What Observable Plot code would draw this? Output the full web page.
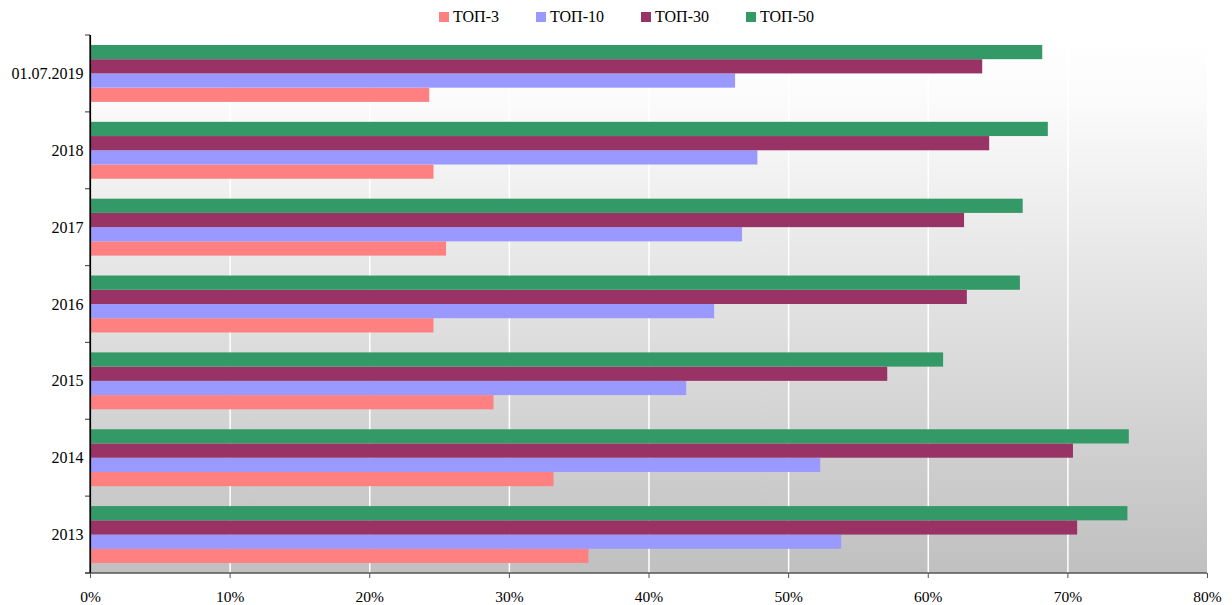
<!DOCTYPE html>
<html>
<head>
<meta charset="utf-8">
<script src="https://cdn.jsdelivr.net/npm/d3@7"></script>
<script src="https://cdn.jsdelivr.net/npm/@observablehq/plot@0.6"></script>
<style>
  html, body { margin: 0; padding: 0; background: #fff; }
  #wrap { position: relative; width: 1232px; height: 605px; font-family: "Liberation Serif", "Times New Roman", serif; }
  #legend { position: absolute; left: 439px; top: 7px; display: flex; font-size: 16px; color: #000; }
  .item { display: flex; align-items: center; height: 20px; line-height: 20px; margin-right: 37px; }
  .sw { width: 10px; height: 10px; margin-right: 4px; }
  #chart { position: absolute; left: 0; top: 0; }
  #chart [aria-label="x-axis tick label"] { font-size: 15.5px; }
  #chart [aria-label="fy-axis tick label"] { font-size: 16px; }
</style>
</head>
<body>
<div id="wrap">
  <div id="chart"></div>
  <div id="legend"></div>
</div>
<script>
// Categories (top to bottom)
const categories = ["01.07.2019", "2018", "2017", "2016", "2015", "2014", "2013"];
// Series names
const series = ["ТОП-3", "ТОП-10", "ТОП-30", "ТОП-50"];
// Values in percent, per category (same order as categories)
const top3  = [24.3, 24.6, 25.5, 24.6, 28.9, 33.2, 35.7];
const top10 = [46.2, 47.8, 46.7, 44.7, 42.7, 52.3, 53.8];
const top30 = [63.9, 64.4, 62.6, 62.8, 57.1, 70.4, 70.7];
const top50 = [68.2, 68.6, 66.8, 66.6, 61.1, 74.4, 74.3];
const colors = ["#FF8080", "#9999FF", "#993366", "#339966"];
const xTicks = [0, 10, 20, 30, 40, 50, 60, 70, 80];
const gridTicks = [10, 20, 30, 40, 50, 60, 70];

const seriesValues = [top3, top10, top30, top50];
const data = [];
categories.forEach((c, i) => {
  series.forEach((s, j) => data.push({cat: c, series: s, value: seriesValues[j][i]}));
});

const pct = d => d + "%";

const plot = Plot.plot({
  width: 1232,
  height: 605,
  marginLeft: 90,
  marginRight: 25,
  marginTop: 35,
  marginBottom: 32,
  style: {fontFamily: "'Liberation Serif', 'Times New Roman', serif", fontSize: "16px", color: "#000", background: "transparent", overflow: "visible"},
  x: {domain: [0, 80], ticks: xTicks, tickFormat: pct, label: null},
  fy: {domain: categories, padding: 0, round: false, label: null},
  y: {domain: [...series].reverse(), paddingInner: 0, paddingOuter: 0.7, round: false, axis: null},
  color: {domain: series, range: colors},
  marks: [
    Plot.ruleX(gridTicks, {stroke: "#ffffff", strokeWidth: 1.5, strokeOpacity: 1}),
    Plot.barX(data, {x: "value", y: "series", fy: "cat", fill: "series", inset: 0}),
    Plot.ruleX([0], {stroke: "#000", strokeWidth: 1.2}),
    Plot.axisFy({anchor: "left", tickSize: 0, tickPadding: 7, fontSize: 16, label: null}),
    Plot.axisX(xTicks, {anchor: "bottom", tickSize: 5, tickPadding: 12, fontSize: 15.5, tickFormat: pct, stroke: "#555", label: null})
  ]
});

document.getElementById("chart").appendChild(plot);

// Background gradient and axis decorations derived from the plot's scales
const xs = plot.scale("x");
const fys = plot.scale("fy");
const x0 = xs.apply(0), x1 = xs.apply(80);
const yTop = fys.apply(categories[0]);
const yBot = fys.apply(categories[categories.length - 1]) + fys.bandwidth;
const svg = d3.select(plot);
const defs = svg.insert("defs", ":first-child");
const grad = defs.append("linearGradient").attr("id", "bggrad").attr("x1", 0).attr("y1", 0).attr("x2", 0).attr("y2", 1);
grad.append("stop").attr("offset", "0%").attr("stop-color", "#ffffff");
grad.append("stop").attr("offset", "12%").attr("stop-color", "#fbfbfb");
grad.append("stop").attr("offset", "100%").attr("stop-color", "#c0c0c0");
svg.insert("rect", "g").attr("x", x0).attr("y", yTop).attr("width", x1 - x0).attr("height", yBot - yTop).attr("fill", "url(#bggrad)");
const deco = svg.append("g");
const bounds = categories.map(c => fys.apply(c)).concat([yBot]);
bounds.forEach(y => {
  deco.append("line").attr("x1", x0 - 5).attr("x2", x0).attr("y1", y).attr("y2", y).attr("stroke", "#555").attr("stroke-width", 1.2);
});
deco.append("line").attr("x1", x0 - 5).attr("x2", x1).attr("y1", yBot).attr("y2", yBot).attr("stroke", "#555").attr("stroke-width", 1.5);
deco.append("line").attr("x1", x0).attr("x2", x0).attr("y1", yTop).attr("y2", yBot).attr("stroke", "#000").attr("stroke-width", 1.2);

// Legend
const legend = d3.select("#legend");
series.forEach((s, i) => {
  const it = legend.append("div").attr("class", "item");
  it.append("div").attr("class", "sw").style("background", colors[i]);
  it.append("span").text(s);
});
</script>
</body>
</html>
